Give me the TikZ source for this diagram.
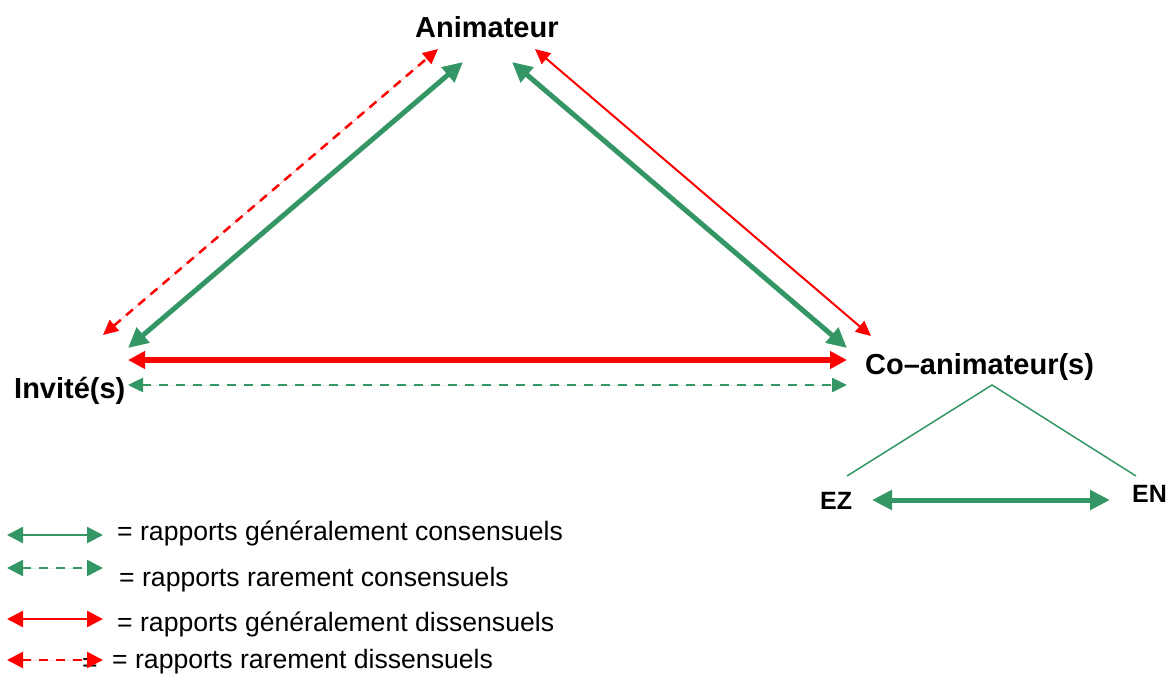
\documentclass[tikz,border=0pt]{standalone}
\usepackage{fontspec}
\setmainfont{Liberation Sans}
\usetikzlibrary{arrows.meta}
\definecolor{cgreen}{RGB}{52,150,100}
\definecolor{cred}{RGB}{255,0,0}
\tikzset{
  lbl/.style={inner sep=0pt, anchor=base west, font=\fontsize{29}{31}\selectfont\bfseries},
  slbl/.style={inner sep=0pt, anchor=base west, font=\fontsize{25}{27}\selectfont\bfseries},
  leg/.style={inner sep=0pt, anchor=base west, font=\fontsize{26.6}{28}\selectfont},
  bigtip/.style={{Triangle[length=20pt,width=19pt]}-{Triangle[length=20pt,width=19pt]}},
  midtip/.style={{Triangle[length=17pt,width=17pt]}-{Triangle[length=17pt,width=17pt]}},
  smalltip/.style={{Triangle[length=15pt,width=14pt]}-{Triangle[length=15pt,width=14pt]}},
  greenthick/.style={draw=cgreen, line width=5pt, bigtip, fill=cgreen},
  redthick/.style={draw=cred, line width=6pt, midtip, fill=cred},
  redthin/.style={draw=cred, line width=2pt, smalltip, fill=cred},
  reddash/.style={draw=cred, line width=2.5pt, smalltip, dash pattern=on 9pt off 7pt, fill=cred},
  greendash/.style={draw=cgreen, line width=2.5pt, smalltip, dash pattern=on 9pt off 8pt, fill=cgreen},
  greenline/.style={draw=cgreen, line width=1.5pt},
  legtip/.style={{Triangle[length=16pt,width=16pt]}-{Triangle[length=16pt,width=16pt]}},
  leggreen/.style={draw=cgreen, line width=2.4pt, legtip},
  leggreendash/.style={draw=cgreen, line width=2.5pt, dash pattern=on 9pt off 8pt, legtip},
  legred/.style={draw=cred, line width=2.6pt, legtip},
  legreddash/.style={draw=cred, line width=2.5pt, dash pattern=on 9pt off 8pt, legtip},
}
\begin{document}
\begin{tikzpicture}[x=1pt,y=-1pt]
\useasboundingbox (0,0) rectangle (1168,675);
% labels
\node[lbl] (anim) at (415,37) {Animateur};
\node[lbl] (inv) at (14,398) {Invité(s)};
\node[lbl] (coan) at (865,374) {Co–animateur(s)};
\node[slbl] (ez) at (820,509) {EZ};
\node[slbl] (en) at (1132,502) {EN};
% arrow ends
\coordinate (rdA) at (438,49);   \coordinate (rdI) at (103,335);
\coordinate (gtA) at (463,62);   \coordinate (gtI) at (128,348);
\coordinate (gtA2) at (512,62);  \coordinate (gtC) at (847,348);
\coordinate (rtA) at (535,49);   \coordinate (rtC) at (871,336);
\coordinate (rhI) at (128,360);  \coordinate (rhC) at (847,360);
\coordinate (ghI) at (128,385);  \coordinate (ghC) at (847,385);
\coordinate (apex) at (992,385);
\coordinate (ezl) at (847,476);  \coordinate (enl) at (1136,476);
\coordinate (ezA) at (872,500);  \coordinate (enA) at (1110,500);
% connectors
\draw[reddash] (rdI) -- (rdA);
\draw[greenthick] (gtI) -- (gtA);
\draw[greenthick] (gtA2) -- (gtC);
\draw[redthin] (rtA) -- (rtC);
\draw[redthick] (rhI) -- (rhC);
\draw[greendash] (ghI) -- (ghC);
\draw[greenline] (ezl) -- (apex) -- (enl);
\draw[greenthick] (ezA) -- (enA);
% legend
\coordinate (l1a) at (7,535); \coordinate (l1b) at (103,535);
\coordinate (l2a) at (7,568); \coordinate (l2b) at (103,568);
\coordinate (l3a) at (7,619); \coordinate (l3b) at (103,619);
\coordinate (l4a) at (7,660); \coordinate (l4b) at (103,660);
\node[leg] (t1) at (117,540) {= rapports généralement consensuels};
\node[leg] (t2) at (119,586) {= rapports rarement consensuels};
\node[leg] (t3) at (117,631) {= rapports généralement dissensuels};
\node[leg] (stray) at (82,671) {=};
\node[leg] (t4) at (112,668) {= rapports rarement dissensuels};
\draw[leggreen, fill=cgreen] (l1a) -- (l1b);
\draw[leggreendash, fill=cgreen] (l2a) -- (l2b);
\draw[legred, fill=cred] (l3a) -- (l3b);
\draw[legreddash, fill=cred] (l4a) -- (l4b);
\end{tikzpicture}
\end{document}
